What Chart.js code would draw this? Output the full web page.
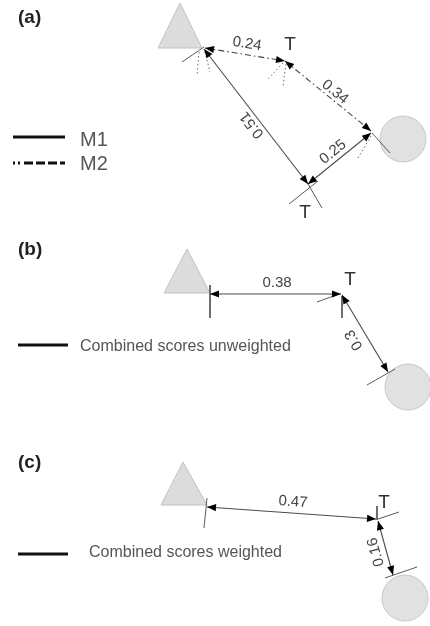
<!DOCTYPE html>
<html><head><meta charset="utf-8">
<script src="https://cdn.jsdelivr.net/npm/chart.js@4.4.1/dist/chart.umd.min.js"></script>
<style>html,body{margin:0;padding:0;background:#fff}#wrap{width:430px;height:626px;position:relative}</style>
</head><body><div id="wrap"><canvas id="c"></canvas></div>
<script>
// ---- data (diagram space: x to the right, y downward) ----
const panelNames = ['(a)', '(b)', '(c)'];
const panelNamePts = [[18, 18], [18, 250], [18, 463]];

const trianglePts = [
  [[180, 3], [158, 48], [202, 48]],
  [[187, 249], [164, 293], [210, 293]],
  [[183, 462], [161, 505], [207, 505]]
];
const circlePts = [[403, 139], [408, 387], [405, 598]];

const tNodePts = [[290, 45], [305, 213], [350, 280], [384, 503]];

// edges: [from, to]
const edgesM1 = [[[204, 49], [308, 184]], [[308, 184], [371, 133]]];
const weightsM1 = [0.51, 0.25];
const labelPtsM1 = [[252, 125], [333, 152]];
const flipM1 = [true, false];

const edgesM2 = [[[205, 48], [285, 61]], [[285, 61], [371, 131]]];
const weightsM2 = [0.24, 0.34];
const labelPtsM2 = [[247, 44], [335, 92]];
const flipM2 = [false, false];

const edgesUnweighted = [[[210, 294], [341, 294]], [[342, 295], [388, 372]]];
const weightsUnweighted = [0.38, 0.3];
const labelPtsUnweighted = [[277, 283], [354, 340]];
const flipUnweighted = [false, true];

const edgesWeighted = [[[207, 507], [376, 519]], [[378, 521], [393, 575]]];
const weightsWeighted = [0.47, 0.16];
const labelPtsWeighted = [[293, 502], [376, 552]];
const flipWeighted = [false, true];

// extension / tick lines
const ticksSolid = [
  [[182, 62], [204, 47]], [[372, 133], [390, 153]], [[289, 204], [318, 181]], [[308, 184], [322, 208]],
  [[210, 285], [210, 318]], [[317, 302], [339, 294]], [[342, 296], [342, 318]], [[367, 385], [395, 369]],
  [[207, 498], [204, 528]], [[377, 506], [377, 520]], [[378, 519], [399, 512]], [[385, 578], [417, 567]]
];
const ticksDotted = [
  [[199, 52], [197, 76]], [[205, 52], [210, 72]], [[283, 63], [267, 80]], [[286, 64], [283, 86]], [[371, 136], [358, 158]]
];

// legends
const legendLabels = ['M1', 'M2', 'Combined scores unweighted', 'Combined scores weighted'];
const legendLinePts = [[[13, 137], [65, 137]], [[13, 163], [65, 163]], [[18, 345], [68, 345]], [[18, 554], [68, 554]]];
const legendTextPts = [[80, 140], [80, 164], [80, 347], [89, 553]];

// ---- build datasets ----
const P = p => ({x: p[0], y: p[1]});
function seg(e, o) {
  return Object.assign({
    type: 'scatter', data: [P(e[0]), P(e[1])], showLine: true, pointRadius: 0,
    borderColor: '#555', borderWidth: 1.1, fill: false, tension: 0
  }, o || {});
}
const datasets = [];
datasets.push({
  type: 'scatter', data: circlePts.map(P), pointRadius: 23, pointHoverRadius: 23,
  backgroundColor: '#e1e1e1', borderColor: '#c6c6c6', borderWidth: 1, order: 10
});
ticksSolid.forEach(e => datasets.push(seg(e, {borderColor: '#5a5a5a', borderWidth: 1, order: 5})));
ticksDotted.forEach(e => datasets.push(seg(e, {borderColor: '#666', borderWidth: 1, borderDash: [1.5, 2.5], order: 5})));
const labelList = [];
function addEdges(edges, weights, lpts, flips, dash) {
  edges.forEach((e, i) => {
    datasets.push(seg(e, {arrow: true, borderDash: dash || [], borderColor: dash ? '#444' : '#4a4a4a', order: 2}));
    labelList.push({edge: e, text: String(weights[i]), pt: lpts[i], flip: flips[i]});
  });
}
addEdges(edgesM1, weightsM1, labelPtsM1, flipM1);
addEdges(edgesM2, weightsM2, labelPtsM2, flipM2, [6, 3, 1.5, 3]);
addEdges(edgesUnweighted, weightsUnweighted, labelPtsUnweighted, flipUnweighted);
addEdges(edgesWeighted, weightsWeighted, labelPtsWeighted, flipWeighted);

legendLinePts.forEach((e, i) => datasets.push(seg(e, {
  borderColor: '#111', borderWidth: 3, order: 1,
  borderDash: i === 1 ? [2, 3, 2, 4, 9, 3, 9, 3, 9, 3, 9, 3] : []
})));

const FONT = '"Liberation Sans", Arial, sans-serif';

const diagramPlugin = {
  id: 'diagram',
  beforeDatasetsDraw(chart) {
    const ctx = chart.ctx, X = chart.scales.x, Y = chart.scales.y;
    ctx.save();
    trianglePts.forEach(tri => {
      ctx.beginPath();
      tri.forEach((p, i) => {
        const x = X.getPixelForValue(p[0]), y = Y.getPixelForValue(p[1]);
        i ? ctx.lineTo(x, y) : ctx.moveTo(x, y);
      });
      ctx.closePath();
      ctx.fillStyle = '#dcdcdc'; ctx.fill();
      ctx.strokeStyle = '#c2c2c2'; ctx.lineWidth = 1; ctx.stroke();
    });
    ctx.restore();
  },
  afterDatasetsDraw(chart) {
    const ctx = chart.ctx, X = chart.scales.x, Y = chart.scales.y;
    const px = p => [X.getPixelForValue(p[0]), Y.getPixelForValue(p[1])];
    ctx.save();
    // arrowheads
    chart.data.datasets.forEach((ds, i) => {
      if (!ds.arrow) return;
      const pts = chart.getDatasetMeta(i).data;
      const a = [pts[0].x, pts[0].y], b = [pts[1].x, pts[1].y];
      [[a, b], [b, a]].forEach(([tip, other]) => {
        const ang = Math.atan2(tip[1] - other[1], tip[0] - other[0]);
        const L = 9, W = 3.6;
        ctx.beginPath();
        ctx.moveTo(tip[0], tip[1]);
        ctx.lineTo(tip[0] - L * Math.cos(ang) + W * Math.sin(ang), tip[1] - L * Math.sin(ang) - W * Math.cos(ang));
        ctx.lineTo(tip[0] - L * Math.cos(ang) - W * Math.sin(ang), tip[1] - L * Math.sin(ang) + W * Math.cos(ang));
        ctx.closePath();
        ctx.fillStyle = '#000'; ctx.fill();
      });
    });
    // edge weight labels
    ctx.textAlign = 'center'; ctx.textBaseline = 'middle';
    labelList.forEach(l => {
      const a = px(l.edge[0]), b = px(l.edge[1]), c = px(l.pt);
      let ang = Math.atan2(b[1] - a[1], b[0] - a[0]);
      if (l.flip) ang += Math.PI;
      ctx.save();
      ctx.translate(c[0], c[1]); ctx.rotate(ang);
      ctx.font = '15px ' + FONT; ctx.fillStyle = '#444';
      ctx.fillText(l.text, 0, 0);
      ctx.restore();
    });
    // T nodes
    ctx.font = '19px ' + FONT; ctx.fillStyle = '#333';
    tNodePts.forEach(p => { const c = px(p); ctx.fillText('T', c[0], c[1]); });
    // panel names
    ctx.font = 'bold 19px ' + FONT; ctx.fillStyle = '#222'; ctx.textAlign = 'left';
    panelNames.forEach((t, i) => { const c = px(panelNamePts[i]); ctx.fillText(t, c[0], c[1]); });
    // legend labels
    legendLabels.forEach((t, i) => {
      const c = px(legendTextPts[i]);
      ctx.font = (i < 2 ? '20px ' : '16px ') + FONT;
      ctx.fillStyle = '#555';
      ctx.fillText(t, c[0], c[1]);
    });
    ctx.restore();
  }
};

new Chart(document.getElementById('c'), {
  type: 'scatter',
  data: {datasets},
  options: {
    responsive: true, maintainAspectRatio: false, animation: false,
    layout: {padding: 0, autoPadding: false},
    events: [],
    scales: {
      x: {type: 'linear', min: 0, max: 430, display: false},
      y: {type: 'linear', min: 0, max: 626, reverse: true, display: false}
    },
    plugins: {legend: {display: false}, tooltip: {enabled: false}},
    clip: false
  },
  plugins: [diagramPlugin]
});
</script>
</body></html>
